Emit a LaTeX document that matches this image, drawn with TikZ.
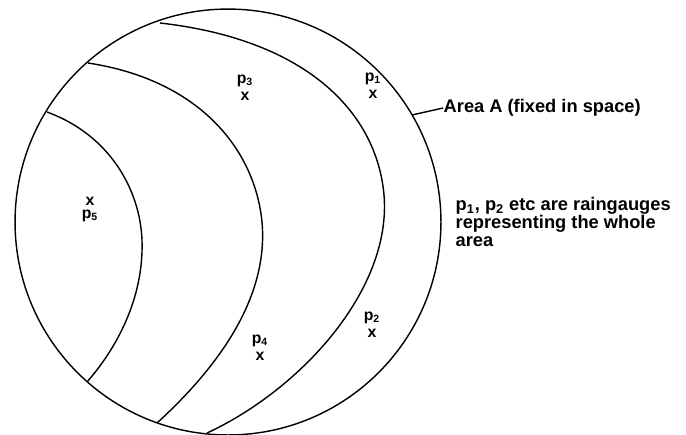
\documentclass[tikz,border=0pt]{standalone}
\usepackage{fontspec}
\setmainfont{Liberation Sans}
\usetikzlibrary{positioning}
\begin{document}
\begin{tikzpicture}[x=0.02cm, y=-0.02cm, line width=0.8pt,
	gauge/.style={inner sep=0pt, font=\bfseries\small},
	lbl/.style={inner sep=0.5pt, font=\bfseries\small},
	note/.style={inner sep=0pt, align=left, font=\bfseries\fontsize{10.4}{10.2}\selectfont}]
	\useasboundingbox (0,0) rectangle (686,434);
	% area A
	\draw (228,222) circle[radius=4.26cm];
	% boundaries inside the area
	\draw (160,23) .. controls (310,40) and (377,115) .. (384,195) .. controls (392,290) and (300,390) .. (207,433);
	\draw (88,63) .. controls (200,80) and (255,150) .. (262,222) .. controls (269,300) and (215,370) .. (157,423);
	\draw (47,112) .. controls (110,135) and (140,190) .. (142,240) .. controls (144,300) and (115,350) .. (87,382);
	% raingauges
	\foreach \n/\px/\py/\side in {1/373/94/above, 2/372/333/above, 3/245/96/above, 4/260/356/above, 5/90/201/below}{
		\node[gauge] (g\n) at (\px,\py) {x};
		\node[lbl, \side=1.5pt of g\n] (p\n) {p\textsubscript{\n}};}
	% labels
	\coordinate (edge) at (412,115);
	\node[note, anchor=west] (areaA) at (443,108) {Area A (fixed in space)};
	\draw (edge) -- (areaA.west);
	\node[note, anchor=north west] (remark) at (455,197) {p\textsubscript{1}, p\textsubscript{2} etc are raingauges\\representing the whole\\area};
\end{tikzpicture}
\end{document}
